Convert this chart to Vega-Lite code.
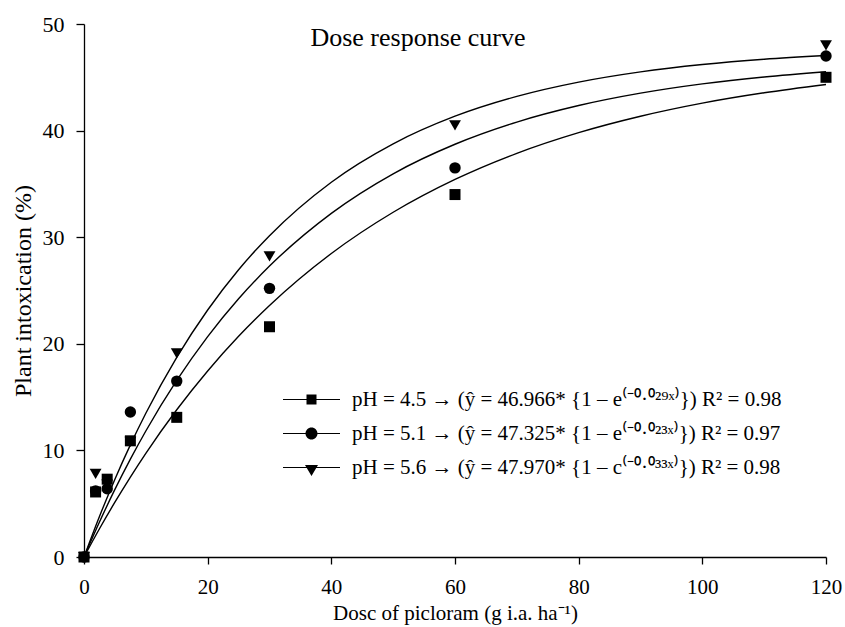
{
  "$schema": "https://vega.github.io/schema/vega-lite/v6.json",
  "width": 742,
  "height": 533,
  "autosize": {"type": "none"},
  "padding": {"left": 84, "top": 24, "right": 19, "bottom": 70},
  "background": "white",
  "config": {
    "view": {"stroke": null},
    "font": "Liberation Serif"
  },
  "title": {
    "text": "Dose response curve",
    "font": "Liberation Serif",
    "fontSize": 26,
    "fontWeight": "normal",
    "color": "black",
    "anchor": "middle",
    "dx": -37,
    "dy": 38,
    "offset": 0
  },
  "datasets": {
    "curves": [
      {"s": "4.5", "x": 0, "y": 0}, {"s": "4.5", "x": 2.5, "y": 2.65}, {"s": "4.5", "x": 5, "y": 5.14}, {"s": "4.5", "x": 7.5, "y": 7.5}, {"s": "4.5", "x": 10, "y": 9.73}, {"s": "4.5", "x": 15, "y": 13.81}, {"s": "4.5", "x": 20, "y": 17.45}, {"s": "4.5", "x": 25, "y": 20.7}, {"s": "4.5", "x": 30, "y": 23.59}, {"s": "4.5", "x": 40, "y": 28.47}, {"s": "4.5", "x": 50, "y": 32.34}, {"s": "4.5", "x": 60, "y": 35.42}, {"s": "4.5", "x": 70, "y": 37.87}, {"s": "4.5", "x": 80, "y": 39.81}, {"s": "4.5", "x": 90, "y": 41.35}, {"s": "4.5", "x": 100, "y": 42.58}, {"s": "4.5", "x": 110, "y": 43.55}, {"s": "4.5", "x": 120, "y": 44.33},
      {"s": "5.1", "x": 0, "y": 0}, {"s": "5.1", "x": 2.5, "y": 3.28}, {"s": "5.1", "x": 5, "y": 6.34}, {"s": "5.1", "x": 7.5, "y": 9.18}, {"s": "5.1", "x": 10, "y": 11.82}, {"s": "5.1", "x": 15, "y": 16.56}, {"s": "5.1", "x": 20, "y": 20.67}, {"s": "5.1", "x": 25, "y": 24.22}, {"s": "5.1", "x": 30, "y": 27.29}, {"s": "5.1", "x": 40, "y": 32.24}, {"s": "5.1", "x": 50, "y": 35.95}, {"s": "5.1", "x": 60, "y": 38.72}, {"s": "5.1", "x": 70, "y": 40.8}, {"s": "5.1", "x": 80, "y": 42.35}, {"s": "5.1", "x": 90, "y": 43.51}, {"s": "5.1", "x": 100, "y": 44.38}, {"s": "5.1", "x": 110, "y": 45.03}, {"s": "5.1", "x": 120, "y": 45.52},
      {"s": "5.6", "x": 0, "y": 0}, {"s": "5.6", "x": 2.5, "y": 3.8}, {"s": "5.6", "x": 5, "y": 7.3}, {"s": "5.6", "x": 7.5, "y": 10.52}, {"s": "5.6", "x": 10, "y": 13.48}, {"s": "5.6", "x": 15, "y": 18.73}, {"s": "5.6", "x": 20, "y": 23.17}, {"s": "5.6", "x": 25, "y": 26.95}, {"s": "5.6", "x": 30, "y": 30.14}, {"s": "5.6", "x": 40, "y": 35.16}, {"s": "5.6", "x": 50, "y": 38.76}, {"s": "5.6", "x": 60, "y": 41.35}, {"s": "5.6", "x": 70, "y": 43.21}, {"s": "5.6", "x": 80, "y": 44.55}, {"s": "5.6", "x": 90, "y": 45.51}, {"s": "5.6", "x": 100, "y": 46.2}, {"s": "5.6", "x": 110, "y": 46.7}, {"s": "5.6", "x": 120, "y": 47.05}
    ],
    "pts": [
      {"s": "4.5", "x": 0, "y": 0}, {"s": "4.5", "x": 1.875, "y": 6.1}, {"s": "4.5", "x": 3.75, "y": 7.3}, {"s": "4.5", "x": 7.5, "y": 10.9}, {"s": "4.5", "x": 15, "y": 13.1}, {"s": "4.5", "x": 30, "y": 21.6}, {"s": "4.5", "x": 60, "y": 34.0}, {"s": "4.5", "x": 120, "y": 45.0},
      {"s": "5.1", "x": 0, "y": 0}, {"s": "5.1", "x": 1.875, "y": 6.2}, {"s": "5.1", "x": 3.75, "y": 6.4}, {"s": "5.1", "x": 7.5, "y": 13.6}, {"s": "5.1", "x": 15, "y": 16.5}, {"s": "5.1", "x": 30, "y": 25.2}, {"s": "5.1", "x": 60, "y": 36.5}, {"s": "5.1", "x": 120, "y": 47.0},
      {"s": "5.6", "x": 0, "y": 0}, {"s": "5.6", "x": 1.875, "y": 7.8}, {"s": "5.6", "x": 3.75, "y": 6.8}, {"s": "5.6", "x": 7.5, "y": 10.8}, {"s": "5.6", "x": 15, "y": 19.1}, {"s": "5.6", "x": 30, "y": 28.2}, {"s": "5.6", "x": 60, "y": 40.5}, {"s": "5.6", "x": 120, "y": 48.0}
    ]
  },
  "encoding": {
    "x": {
      "field": "x", "type": "quantitative",
      "scale": {"domain": [0, 120], "nice": false, "zero": false},
      "axis": {
        "title": "Dosc of picloram (g i.a. ha⁻¹)",
        "values": [0, 20, 40, 60, 80, 100, 120],
        "grid": false,
        "domainColor": "black", "domainWidth": 1.3,
        "tickColor": "black", "tickWidth": 1.3, "tickSize": 7,
        "labelFont": "Liberation Serif", "labelFontSize": 21, "labelColor": "black", "labelPadding": 12,
        "labelFlush": false, "labelOverlap": false,
        "titleFont": "Liberation Serif", "titleFontSize": 21, "titleFontWeight": "normal", "titleColor": "black", "titlePadding": 5
      }
    },
    "y": {
      "field": "y", "type": "quantitative",
      "scale": {"domain": [0, 50], "nice": false},
      "axis": {
        "title": "Plant intoxication (%)",
        "values": [0, 10, 20, 30, 40, 50],
        "grid": false,
        "domainColor": "black", "domainWidth": 1.3,
        "tickColor": "black", "tickWidth": 1.3, "tickSize": 8,
        "labelFont": "Liberation Serif", "labelFontSize": 22, "labelColor": "black", "labelPadding": 12,
        "labelFlush": false, "labelOverlap": false,
        "titleFont": "Liberation Serif", "titleFontSize": 24, "titleFontWeight": "normal", "titleColor": "black", "titlePadding": 7
      }
    }
  },
  "layer": [
    {
      "data": {"name": "curves"},
      "mark": {"type": "line", "color": "black", "strokeWidth": 1.4, "interpolate": "monotone"},
      "encoding": {"detail": {"field": "s"}}
    },
    {
      "data": {"name": "pts"},
      "mark": {"type": "point", "filled": true, "color": "black", "opacity": 1},
      "encoding": {
        "shape": {"field": "s", "type": "nominal", "scale": {"domain": ["4.5", "5.1", "5.6"], "range": ["square", "circle", "triangle-down"]}, "legend": null},
        "size": {"field": "s", "type": "nominal", "scale": {"domain": ["4.5", "5.1", "5.6"], "range": [121, 140, 170]}, "legend": null}
      }
    },
    {
      "data": {"name": "pts"},
      "transform": [{"filter": "datum.x < 0"}],
      "mark": {"type": "point", "filled": true, "color": "black", "opacity": 1, "size": 400},
      "encoding": {
        "shape": {
          "field": "s", "type": "nominal",
          "scale": {"domain": ["4.5", "5.1", "5.6"], "range": [
            "M-2.85,-0.06H-0.5V0.06H-2.85Z M0.5,-0.06H2.85V0.06H0.5Z M-0.5,-0.5H0.5V0.5H-0.5Z",
            "M-2.85,-0.06H-0.6V0.06H-2.85Z M0.6,-0.06H2.85V0.06H0.6Z M-0.6,0A0.6,0.6 0 1,0 0.6,0A0.6,0.6 0 1,0 -0.6,0Z",
            "M-2.85,-0.06H-0.45V0.06H-2.85Z M0.45,-0.06H2.85V0.06H0.45Z M-0.65,-0.25H0.65L0,0.85Z"
          ]},
          "legend": {
            "orient": "none", "legendX": 217, "legendY": 365,
            "title": null, "padding": 0,
            "symbolSize": 400, "symbolStrokeWidth": 0, "symbolFillColor": "black", "symbolOpacity": 1,
            "labelFont": "Liberation Serif", "labelFontSize": 21, "labelColor": "black", "labelOffset": 30, "labelLimit": 0,
            "rowPadding": 12,
            "labelExpr": "datum.label === '4.5' ? 'pH = 4.5 → (ŷ = 46.966* {1 – e⁽⁻⁰·⁰²⁹ˣ⁾}) R² = 0.98' : datum.label === '5.1' ? 'pH = 5.1 → (ŷ = 47.325* {1 – e⁽⁻⁰·⁰²³ˣ⁾}) R² = 0.97' : 'pH = 5.6 → (ŷ = 47.970* {1 – c⁽⁻⁰·⁰³³ˣ⁾}) R² = 0.98'"
          }
        }
      }
    }
  ],
  "resolve": {"scale": {"shape": "independent", "size": "independent"}}
}
